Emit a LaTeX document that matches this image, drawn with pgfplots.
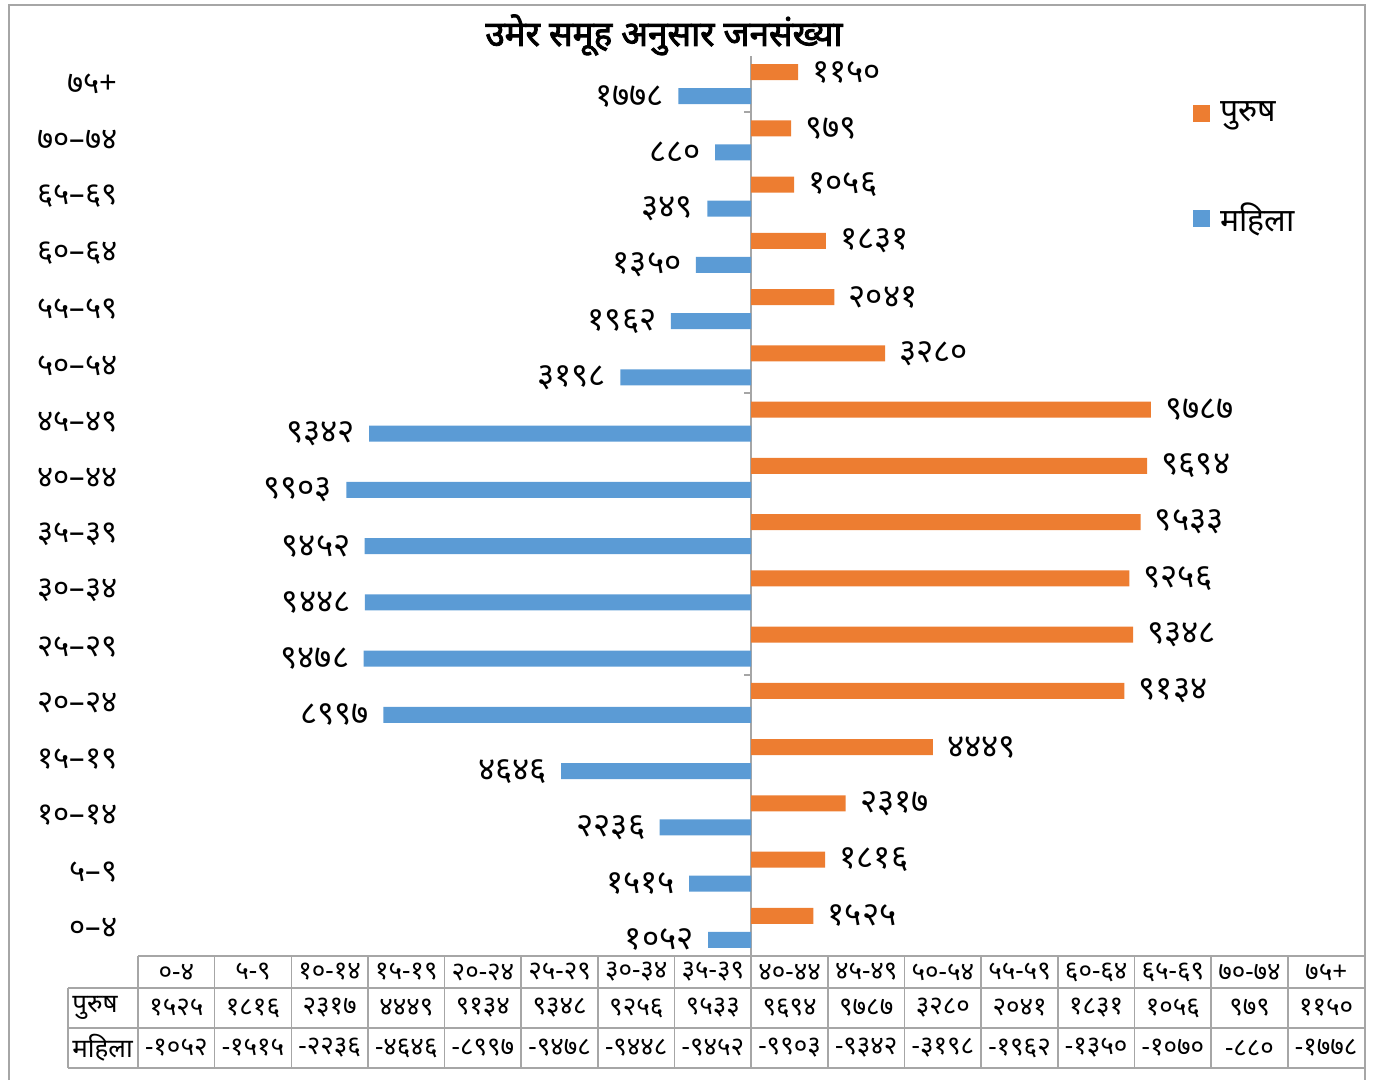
\documentclass[border=0pt]{standalone}
\usepackage{fontspec}
\usepackage{pgfplots}
\usepackage{pgfplotstable}
\pgfplotsset{compat=1.18}
\setmainfont{Noto Sans}[Script=Devanagari, AutoFakeBold=2.5]
\definecolor{male}{RGB}{237,125,49}
\definecolor{female}{RGB}{91,155,213}
\definecolor{axgray}{RGB}{166,166,166}

\pgfplotstableread{
y male female mlab flab
0 1525 -1052 १५२५ १०५२
1 1816 -1515 १८१६ १५१५
2 2317 -2236 २३१७ २२३६
3 4449 -4646 ४४४९ ४६४६
4 9134 -8997 ९१३४ ८९९७
5 9348 -9478 ९३४८ ९४७८
6 9256 -9448 ९२५६ ९४४८
7 9533 -9452 ९५३३ ९४५२
8 9694 -9903 ९६९४ ९९०३
9 9787 -9342 ९७८७ ९३४२
10 3280 -3198 ३२८० ३१९८
11 2041 -1962 २०४१ १९६२
12 1831 -1350 १८३१ १३५०
13 1056 -1070 १०५६ ३४९
14 979 -880 ९७९ ८८०
15 1150 -1778 ११५० १७७८
}\datatable

\begin{document}
\begin{tikzpicture}[x=1pt,y=1pt]
\path[use as bounding box] (0,0) rectangle (689.5,540);
\draw[axgray, line width=1pt] (4.5,0) -- (4.5,537.5) -- (682.5,537.5) -- (682.5,0);
\node[font=\bfseries\fontsize{17.5}{20}\selectfont] at (332,522.5) {उमेर समूह अनुसार जनसंख्या};
\begin{axis}[
  at={(69pt,62pt)}, anchor=south west,
  width=613pt, height=450pt, scale only axis,
  xmin=-15000, xmax=15000, ymin=-0.5, ymax=15.5,
  xbar, bar width=8pt,
  axis line style={draw=none},
  xtick=\empty,
  ytick={0,...,15},
  yticklabels={०–४,५–९,१०–१४,१५–१९,२०–२४,२५–२९,३०–३४,३५–३९,४०–४४,४५–४९,५०–५४,५५–५९,६०–६४,६५–६९,७०–७४,७५+},
  major tick length=0pt,
  yticklabel style={font=\fontsize{15.5}{18}\selectfont, anchor=east, inner sep=0pt, xshift=-10pt},
  clip=false,
  point meta=explicit symbolic,
  nodes near coords,
  legend style={at={(0.8604,0.954)}, anchor=north west, draw=none, fill=none,
    font=\fontsize{16}{18}\selectfont, row sep=35pt, column sep=3pt, inner sep=0pt},
  legend image code/.code={\fill[#1] (0pt,-4.25pt) rectangle (8.5pt,4.25pt);},
  legend cell align=left,
]
\draw[axgray, line width=1pt] (axis cs:0,-0.5) -- (axis cs:0,15.5);
\draw[axgray, line width=1pt] (axis cs:0,4.5) -- ([xshift=-3.5pt]axis cs:0,4.5);
\draw[axgray, line width=1pt] (axis cs:0,9.5) -- ([xshift=-3.5pt]axis cs:0,9.5);
\draw[axgray, line width=1pt] (axis cs:0,14.5) -- ([xshift=-3.5pt]axis cs:0,14.5);
\addplot[fill=male, draw=none, bar shift=6pt,
  every node near coord/.append style={anchor=west, inner sep=0pt, xshift=7pt, font=\fontsize{16.5}{18}\selectfont, text=black}]
  table[x=male, y=y, meta=mlab] {\datatable};
\addplot[fill=female, draw=none, bar shift=-6pt,
  every node near coord/.append style={anchor=east, inner sep=0pt, xshift=-7pt, font=\fontsize{16.5}{18}\selectfont, text=black}]
  table[x=female, y=y, meta=flab] {\datatable};
\legend{पुरुष, महिला}
\end{axis}
% data table
\def\cw{38.328}
\draw[axgray, line width=0.8pt] (69,62) -- (682.25,62);
\draw[axgray, line width=0.8pt] (34,46) -- (682.25,46);
\draw[axgray, line width=0.8pt] (34,26) -- (682.25,26);
\draw[axgray, line width=0.8pt] (34,6) -- (682.25,6);
\draw[axgray, line width=0.8pt] (34,6) -- (34,46);
\foreach \i in {0,...,16} \draw[axgray, line width=0.8pt] ({69+\i*\cw},6) -- ({69+\i*\cw},62);
\begin{scope}[font=\fontsize{13}{15}\selectfont]
\foreach \lab [count=\i from 0] in {०-४,५-९,१०-१४,१५-१९,२०-२४,२५-२९,३०-३४,३५-३९,४०-४४,४५-४९,५०-५४,५५-५९,६०-६४,६५-६९,७०-७४,७५+}
  \node at ({69+(\i+0.5)*\cw},54) {\lab};
\foreach \lab [count=\i from 0] in {१५२५,१८१६,२३१७,४४४९,९१३४,९३४८,९२५६,९५३३,९६९४,९७८७,३२८०,२०४१,१८३१,१०५६,९७९,११५०}
  \node at ({69+(\i+0.5)*\cw},36) {\lab};
\foreach \lab [count=\i from 0] in {-१०५२,-१५१५,-२२३६,-४६४६,-८९९७,-९४७८,-९४४८,-९४५२,-९९०३,-९३४२,-३१९८,-१९६२,-१३५०,-१०७०,-८८०,-१७७८}
  \node at ({69+(\i+0.5)*\cw},16) {\lab};
\node[anchor=west, inner sep=0pt] at (36,36) {पुरुष};
\node[anchor=west, inner sep=0pt] at (36,16) {महिला};
\end{scope}
\end{tikzpicture}
\end{document}
